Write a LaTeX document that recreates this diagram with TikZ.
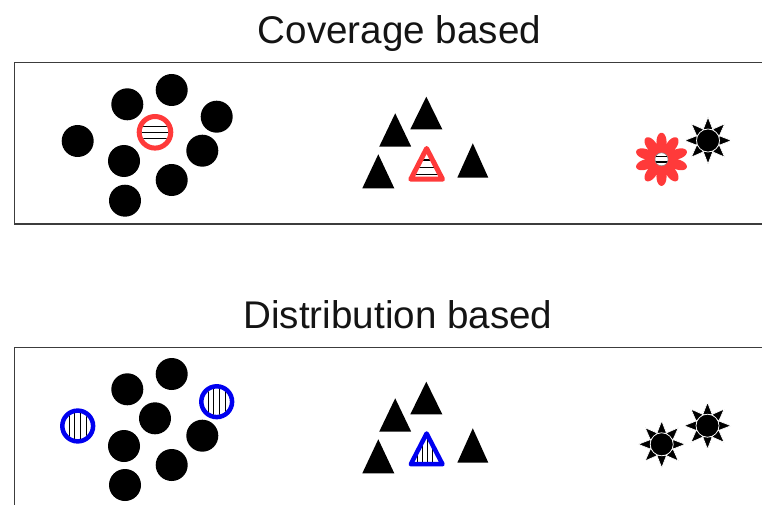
\documentclass[tikz,border=0pt]{standalone}
\usepackage{fontspec}
\setmainfont{Liberation Sans}
\usetikzlibrary{calc}
\definecolor{cred}{HTML}{FF3A3A}
\definecolor{cblue}{HTML}{0000F0}
\definecolor{boxgray}{HTML}{3C3C3C}
\definecolor{txt}{HTML}{141414}
\begin{document}
\begin{tikzpicture}[x=1pt,y=-1pt,
  boxline/.style={draw=boxgray,line width=1.5pt},
  title/.style={font=\fontsize{38.6}{46}\selectfont,text=txt,inner sep=0pt,anchor=base},
  dot/.style={circle,fill=black,minimum size=32pt,inner sep=0pt},
  redring/.style={circle,fill=white,draw=cred,line width=5pt,minimum size=31.6pt,inner sep=0pt},
  bluering/.style={circle,fill=white,draw=cblue,line width=4.5pt,minimum size=30.8pt,inner sep=0pt},
  stripe/.style={draw=black,line width=1.2pt},
  tri/.style={fill=black},
  spike/.style={fill=black,draw=white,line width=0.7pt,line join=miter}]
\useasboundingbox (0,0) rectangle (762,505);
\clip (0,0) rectangle (762,505);

% titles
\node[title] (t1) at (399.5,43.3) {Coverage based};
\node[title] (t2) at (398,328.3) {Distribution based};

% boxes
\draw[boxline] (14.7,62.7) rectangle (780,224);
\draw[boxline] (14.7,347.3) rectangle (780,530);

% ---------- top panel: circles ----------
\foreach \px/\py [count=\i] in {77.7/141,127.3/104.3,171.7/90,216.7/116.7,202.3/150.7,124/161,171.7/180,125/200.7}
  \node[dot] (ct\i) at (\px,\py) {};
\node[redring] (rc) at (155,132.3) {};
\begin{scope}
  \clip (rc.center) circle (13.2pt);
  \foreach \d in {-6,0,6}
    \draw[stripe] ($(rc.center)+(-16pt,\d pt)$) -- ($(rc.center)+(16pt,\d pt)$);
\end{scope}

% ---------- top panel: triangles ----------
\foreach \tx/\tt/\tb/\tw in {426.3/96.7/129.3/16,395.2/113.3/146.7/16,378.3/154.3/188.3/16,472.8/143.3/177.7/15.5}
  \fill[tri] (\tx,\tt) -- (\tx+\tw,\tb) -- (\tx-\tw,\tb) -- cycle;
\coordinate (rta) at (426.6,148.5);
\coordinate (rtb) at (442.5,179.2);
\coordinate (rtc) at (410.8,179.2);
\fill[white] (rta) -- (rtb) -- (rtc) -- cycle;
\begin{scope}
  \clip (rta) -- (rtb) -- (rtc) -- cycle;
  \foreach \yy in {160,167.3,174.3}
    \draw[stripe] (400,\yy) -- (455,\yy);
\end{scope}
\draw[cred,line width=5pt,line join=round] (rta) -- (rtb) -- (rtc) -- cycle;

% ---------- top panel: stars ----------
\coordinate (rs) at (661.5,159.3);
\begin{scope}[shift={(rs)}]
  \fill[cred] plot[domain=0:360,samples=361,variable=\t]
    (\t:{15.5+11*pow(abs(cos(5*(\t-90)))+0.0001,0.8)}) -- cycle;
\end{scope}
\filldraw[fill=white,draw=gray,line width=0.5pt] (rs) circle (6.5pt);
\begin{scope}
  \clip (rs) circle (6.2pt);
  \foreach \d in {-2.8,2.8}
    \draw[stripe] ($(rs)+(-8pt,\d pt)$) -- ($(rs)+(8pt,\d pt)$);
\end{scope}

\coordinate (su1) at (708,140.5);
\coordinate (su2) at (661.7,444.3);
\coordinate (su3) at (707.5,425.7);
\foreach \s in {su1,su2,su3}{
  \begin{scope}[shift={(\s)}]
    \foreach \a in {0,45,...,315}
      \filldraw[spike] (\a:23.5pt) -- ({\a+24}:12pt) -- ({\a-24}:12pt) -- cycle;
    \filldraw[spike] (0,0) circle (11.5pt);
  \end{scope}
}

% ---------- bottom panel: circles ----------
\foreach \px/\py [count=\i] in {127.3/389.3,171.7/374,155/418.3,202.3/435.7,124/446,171.7/465,125/485}
  \node[dot] (cb\i) at (\px,\py) {};
\node[bluering] (bl) at (77.7,426) {};
\node[bluering] (br) at (216.7,401.7) {};
\foreach \n in {bl,br}{
  \begin{scope}
    \clip (\n.center) circle (13.2pt);
    \foreach \d in {-8.6,-2.9,2.9,8.6}
      \draw[stripe] ($(\n.center)+(\d pt,-16pt)$) -- ($(\n.center)+(\d pt,16pt)$);
  \end{scope}
}

% ---------- bottom panel: triangles ----------
\foreach \tx/\tt/\tb/\tw in {426.3/381.7/414.3/16,395.2/398.3/431.7/16,378.3/439.3/473.3/16,472.8/428.3/462.7/15.5}
  \fill[tri] (\tx,\tt) -- (\tx+\tw,\tb) -- (\tx-\tw,\tb) -- cycle;
\coordinate (bta) at (426.6,433.5);
\coordinate (btb) at (442.5,464.2);
\coordinate (btc) at (410.8,464.2);
\fill[white] (bta) -- (btb) -- (btc) -- cycle;
\begin{scope}
  \clip (bta) -- (btb) -- (btc) -- cycle;
  \foreach \xx in {417.7,422.7,427.7,432.7}
    \draw[stripe] (\xx,425) -- (\xx,470);
\end{scope}
\draw[cblue,line width=4.5pt,line join=round] (bta) -- (btb) -- (btc) -- cycle;
\end{tikzpicture}
\end{document}
